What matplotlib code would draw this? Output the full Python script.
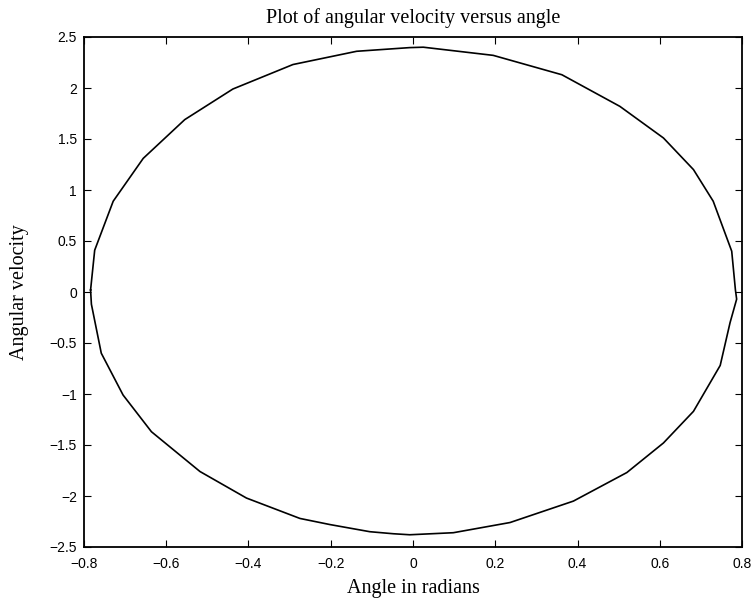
import matplotlib
matplotlib.use("Agg")
import matplotlib.pyplot as plt

# Trajectory points (angle [rad], angular velocity)
angle = [-0.784, -0.774, -0.729, -0.656, -0.555, -0.438, -0.292, -0.137, -0.008,
         0.025, 0.195, 0.362, 0.503, 0.609, 0.682, 0.730, 0.775, 0.784, 0.787,
         0.771, 0.747, 0.682, 0.609, 0.520, 0.390, 0.236, 0.098, -0.008,
         -0.048, -0.105, -0.202, -0.275, -0.405, -0.518, -0.636, -0.705,
         -0.758, -0.782, -0.784]
ang_vel = [0.02, 0.41, 0.89, 1.31, 1.69, 1.99, 2.23, 2.36, 2.396,
           2.40, 2.32, 2.13, 1.82, 1.51, 1.20, 0.89, 0.40, 0.02, -0.07,
           -0.30, -0.72, -1.17, -1.48, -1.77, -2.05, -2.26, -2.36, -2.38,
           -2.37, -2.35, -2.28, -2.22, -2.02, -1.76, -1.37, -1.01,
           -0.60, -0.12, 0.02]

xticks = [-0.8, -0.6, -0.4, -0.2, 0, 0.2, 0.4, 0.6, 0.8]
xticklabels = ["\u22120.8", "\u22120.6", "\u22120.4", "\u22120.2", "0", "0.2", "0.4", "0.6", "0.8"]
yticks = [-2.5, -2, -1.5, -1, -0.5, 0, 0.5, 1, 1.5, 2, 2.5]
yticklabels = ["\u22122.5", "\u22122", "\u22121.5", "\u22121", "\u22120.5", "0",
               "0.5", "1", "1.5", "2", "2.5"]

fig = plt.figure(figsize=(7.56, 6.03), dpi=100)
ax = fig.add_axes([84/756, 1-547/603, (742-84)/756, (547-37)/603])

ax.plot(angle, ang_vel, color="black", linewidth=1.2)

ax.set_xlim(-0.8, 0.8)
ax.set_ylim(-2.5, 2.5)
ax.set_xticks(xticks)
ax.set_xticklabels(xticklabels, family="Liberation Sans", fontsize=10)
ax.set_yticks(yticks)
ax.set_yticklabels(yticklabels, family="Liberation Sans", fontsize=10)
ax.tick_params(direction="in", length=5, width=0.8, top=True, right=True, pad=5)
ax.tick_params(axis="x", pad=7)
for s in ax.spines.values():
    s.set_linewidth(1.3)

# labels placed in figure pixels to match the reference
fig.text(413/756, 1-18/603, "Plot of angular velocity versus angle", family="Liberation Serif",
         fontsize=14.5, ha="center", va="center")
fig.text(413/756, 1-588/603, "Angle in radians", family="Liberation Serif",
         fontsize=14.5, ha="center", va="center")
fig.text(20/756, 1-292/603, "Angular velocity", family="Liberation Serif",
         fontsize=14.5, ha="center", va="center", rotation=90)

fig.savefig("out.png", dpi=100)
